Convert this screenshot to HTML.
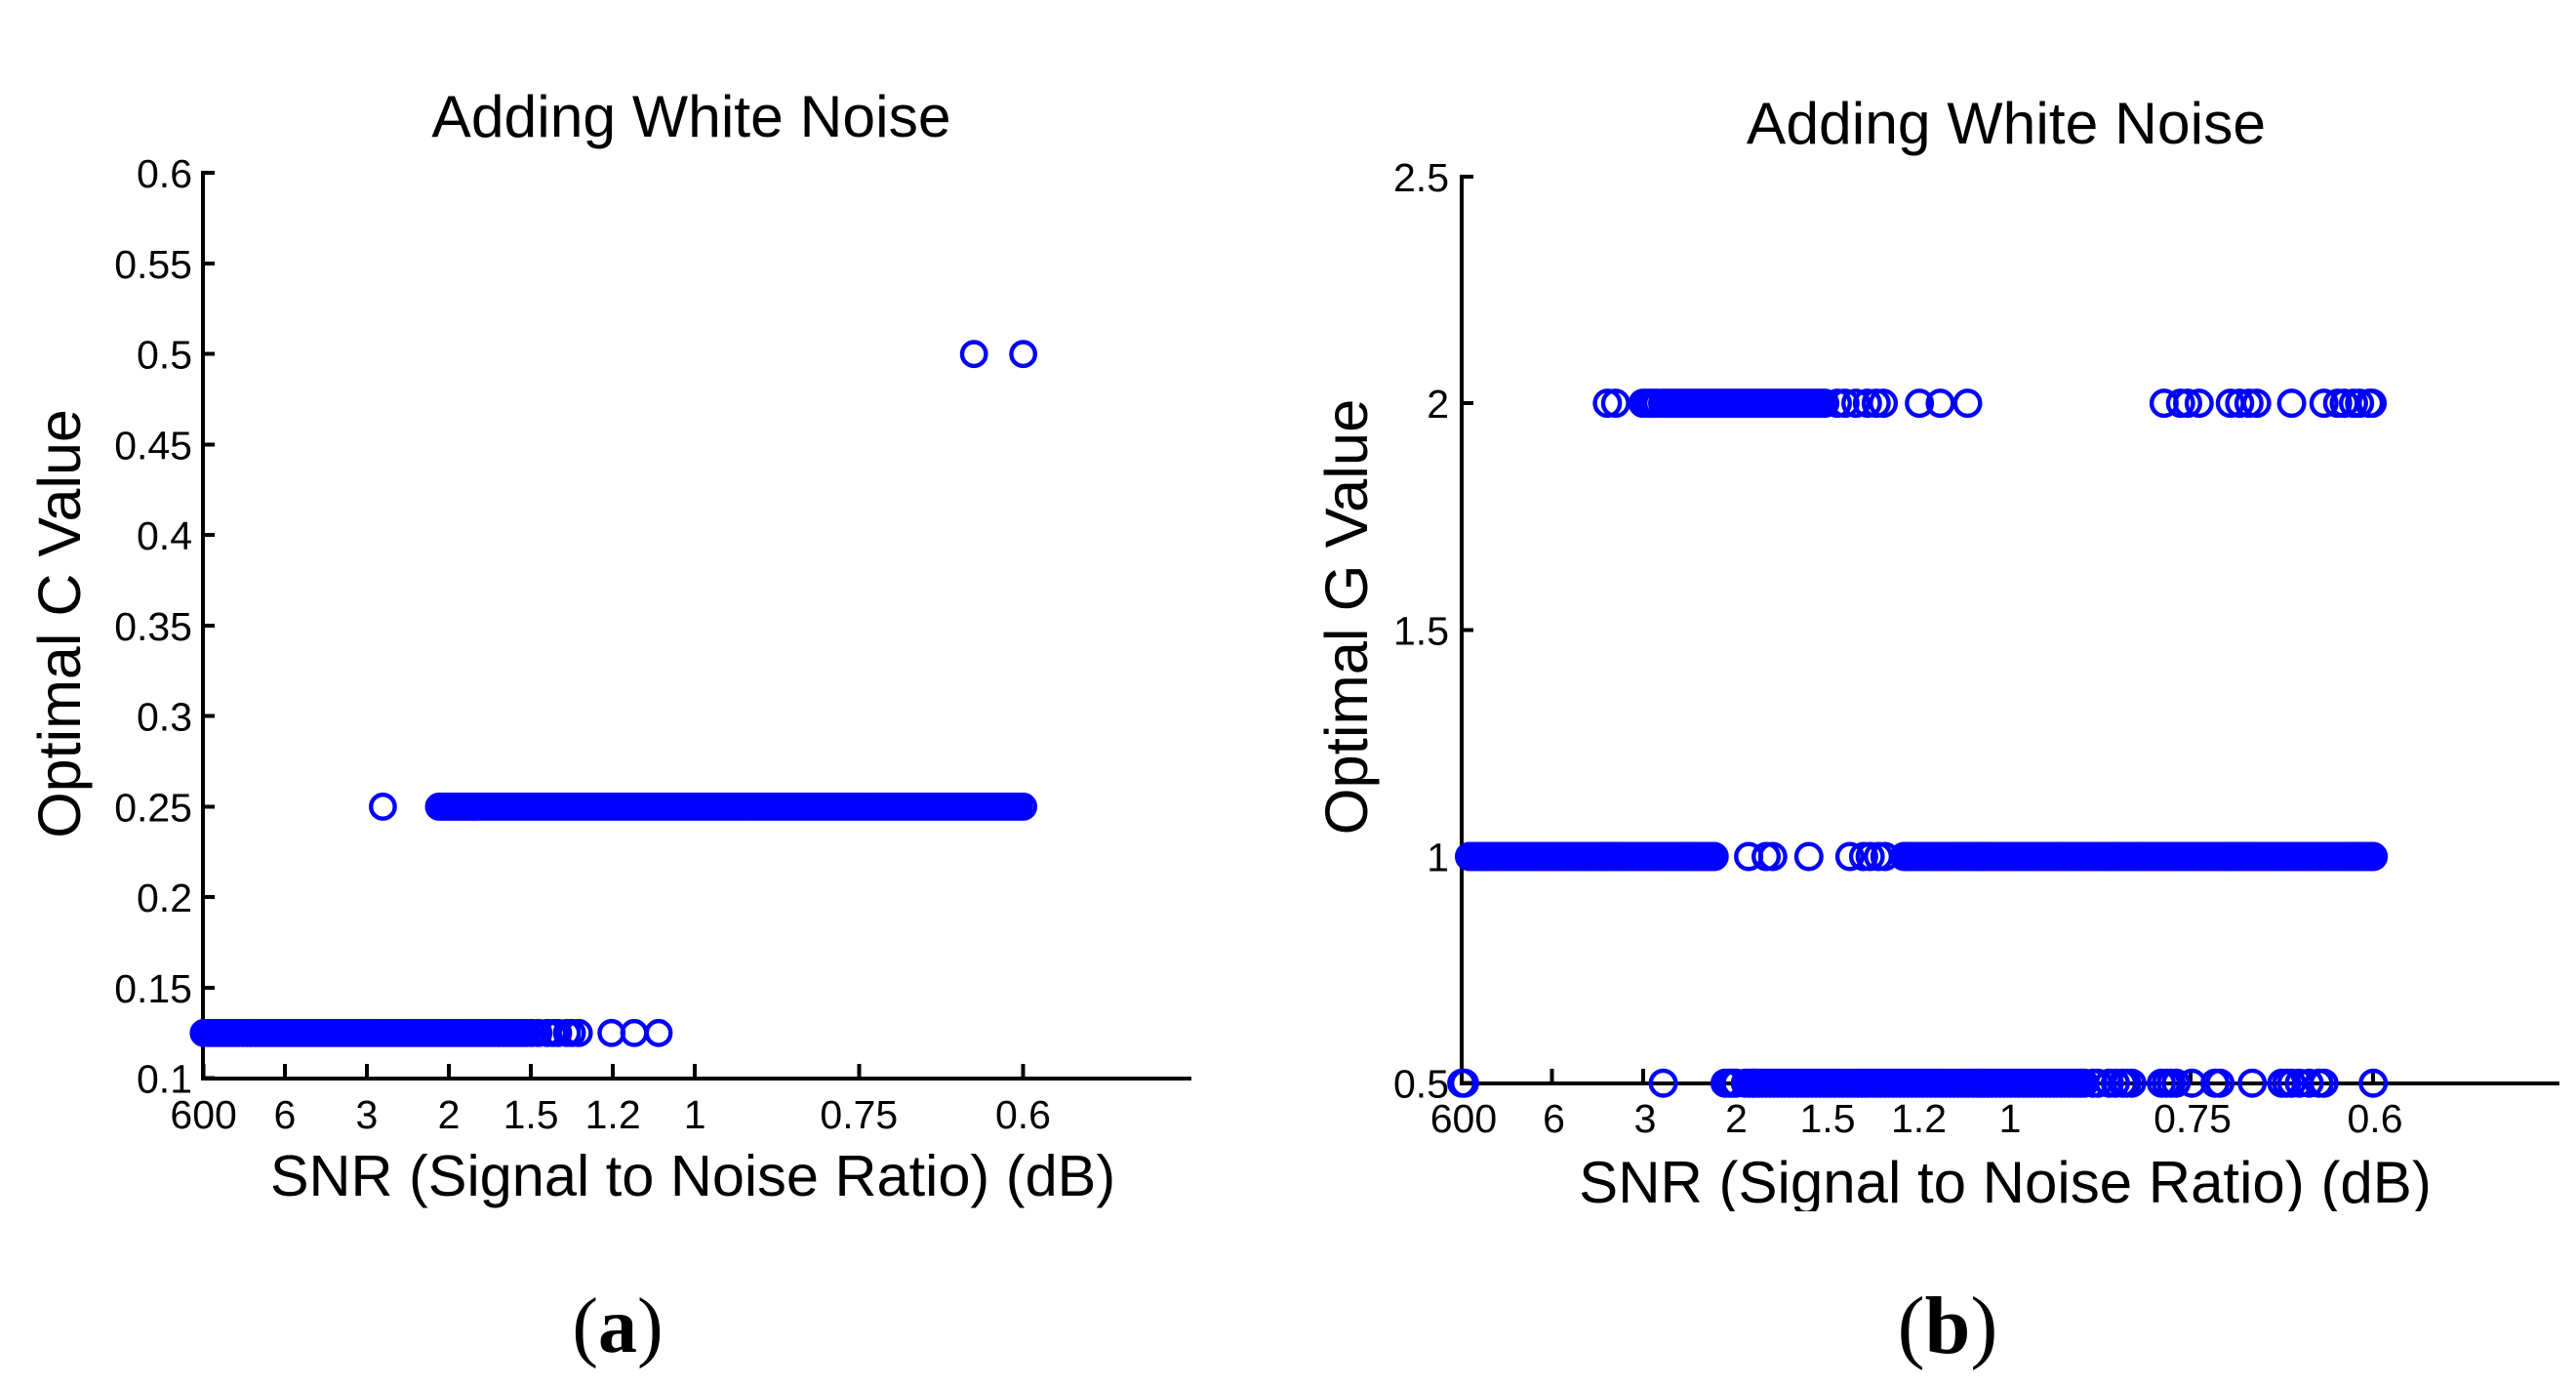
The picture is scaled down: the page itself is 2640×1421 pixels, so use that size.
<!DOCTYPE html>
<html lang="en">
<head>
<meta charset="utf-8">
<title>Adding White Noise - Optimal C and G values</title>
<style>
html,body{margin:0;padding:0;background:#fff;}
svg{display:block;}
text{font-family:"Liberation Sans",Arial,sans-serif;fill:#000;}
.cap{font-family:"Liberation Serif","Times New Roman",serif;}
</style>
</head>
<body>
<svg id="figure" xmlns="http://www.w3.org/2000/svg" width="2640" height="1421" viewBox="0 0 2640 1421">
  <rect x="0" y="0" width="2640" height="1421" fill="#ffffff"/>
  <defs>
    <clipPath id="xlabel-b-clip"><rect x="1500" y="1150" width="1100" height="91"/></clipPath>
  </defs>
  <g id="panel-a">
    <text x="708.5" y="140" font-size="60.6" text-anchor="middle">Adding White Noise</text>
    <text transform="translate(82,639) rotate(-90)" font-size="61" text-anchor="middle">Optimal C Value</text>
    <text x="710" y="1225" font-size="59.5" text-anchor="middle">SNR (Signal to Noise Ratio) (dB)</text>
    <text class="cap" font-size="80" x="633" y="1385" text-anchor="middle">(<tspan font-weight="bold">a</tspan>)</text>
  </g>
  <g id="panel-b">
    <text x="2056" y="147" font-size="60.6" text-anchor="middle">Adding White Noise</text>
    <text transform="translate(1401,632) rotate(-90)" font-size="61.5" text-anchor="middle">Optimal G Value</text>
    <text x="2055" y="1232" font-size="60" text-anchor="middle" clip-path="url(#xlabel-b-clip)">SNR (Signal to Noise Ratio) (dB)</text>
    <text class="cap" font-size="84" x="1996" y="1386" text-anchor="middle">(<tspan font-weight="bold">b</tspan>)</text>
  </g>
</svg>
<script>
// Shared x-axis ticks: SNR in dB, plotted linearly in 1/SNR
const snrTickLabels = [600, 6, 3, 2, 1.5, 1.2, 1, 0.75, 0.6];

// Panel (a): optimal C value
const cTickLabels = ['0.1','0.15','0.2','0.25','0.3','0.35','0.4','0.45','0.5','0.55','0.6'];
const cLevels = [0.125, 0.25, 0.5];
const cInvSnrAt0125 = [.002,.01,.018,.026,.034,.042,.05,.058,.066,.074,.082,.09,.098,.106,.114,.122,.13,.138,.146,.154,.162,.17,.178,.186,.194,.202,.21,.218,.226,.234,.242,.25,.258,.266,.274,.282,.29,.298,.306,.314,.322,.33,.338,.346,.354,.362,.37,.378,.386,.394,.402,.41,.418,.426,.434,.442,.45,.458,.466,.474,.482,.49,.498,.506,.514,.522,.53,.538,.546,.554,.562,.57,.578,.586,.594,.602,.61,.618,.626,.634,.642,.65,.658,.668,.682,.7,.712,.722,.74,.75,.764,.8305,.8767,.9263];
const cInvSnrAt025 = [.366,.48,.487,.494,.501,.508,.515,.522,.529,.536,.543,.55,.554,.562,.57,.578,.586,.594,.602,.61,.618,.626,.634,.642,.65,.658,.666,.674,.682,.69,.698,.706,.714,.722,.73,.738,.746,.754,.762,.77,.778,.786,.794,.802,.81,.818,.826,.834,.842,.85,.858,.866,.874,.882,.89,.898,.906,.914,.922,.93,.938,.946,.954,.962,.97,.978,.986,.994,1.002,1.01,1.018,1.026,1.034,1.042,1.05,1.058,1.066,1.074,1.082,1.09,1.098,1.106,1.114,1.122,1.13,1.138,1.146,1.154,1.162,1.17,1.178,1.186,1.194,1.202,1.21,1.218,1.226,1.234,1.242,1.25,1.258,1.266,1.274,1.282,1.29,1.298,1.306,1.314,1.322,1.33,1.338,1.346,1.354,1.362,1.37,1.378,1.386,1.394,1.402,1.41,1.418,1.426,1.434,1.442,1.45,1.458,1.466,1.474,1.482,1.49,1.498,1.506,1.514,1.522,1.53,1.538,1.546,1.554,1.562,1.57,1.578,1.586,1.594,1.602,1.61,1.618,1.626,1.634,1.642,1.65,1.658,1.667];
const cInvSnrAt05 = [1.567,1.667];

// Panel (b): optimal G value
const gTickLabels = ['0.5','1','1.5','2','2.5'];
const gLevels = [0.5, 1, 2];
const gInvSnrAt05 = [.002,.007,.37,.483,.49,.497,.503,.52,.527,.534,.537,.544,.551,.558,.565,.572,.579,.586,.593,.6,.607,.614,.621,.628,.635,.642,.649,.656,.663,.67,.677,.684,.691,.698,.705,.712,.719,.726,.733,.74,.747,.754,.761,.768,.775,.782,.789,.796,.803,.81,.817,.824,.831,.838,.845,.852,.859,.866,.873,.88,.887,.894,.901,.908,.915,.922,.929,.936,.943,.95,.957,.964,.971,.978,.985,.992,.999,1.006,1.013,1.02,1.027,1.034,1.041,1.048,1.055,1.062,1.069,1.076,1.083,1.09,1.097,1.104,1.111,1.118,1.125,1.132,1.139,1.155,1.164,1.185,1.196,1.209,1.217,1.226,1.28,1.289,1.298,1.307,1.336,1.378,1.387,1.446,1.5,1.509,1.518,1.532,1.55,1.568,1.577,1.667];
const gInvSnrAt1 = [.016,.023,.03,.037,.044,.051,.058,.065,.072,.079,.086,.093,.1,.107,.114,.121,.128,.135,.142,.149,.156,.163,.17,.177,.184,.191,.198,.205,.212,.219,.226,.233,.24,.247,.254,.261,.268,.275,.282,.289,.296,.303,.31,.317,.324,.331,.338,.345,.352,.359,.366,.373,.38,.387,.394,.401,.408,.415,.422,.429,.436,.443,.45,.457,.463,.526,.558,.57,.636,.711,.736,.748,.763,.775,.81,.815,.822,.829,.836,.843,.85,.857,.864,.871,.878,.885,.892,.899,.906,.913,.92,.927,.934,.941,.948,.955,.962,.969,.976,.983,.99,.997,1.004,1.011,1.018,1.025,1.032,1.039,1.046,1.053,1.06,1.067,1.074,1.081,1.088,1.095,1.102,1.109,1.116,1.123,1.13,1.137,1.144,1.151,1.158,1.165,1.172,1.179,1.186,1.193,1.2,1.207,1.214,1.221,1.228,1.235,1.242,1.249,1.256,1.263,1.27,1.277,1.284,1.291,1.298,1.305,1.312,1.319,1.326,1.333,1.34,1.347,1.354,1.361,1.368,1.375,1.382,1.389,1.396,1.403,1.41,1.417,1.424,1.431,1.438,1.445,1.452,1.459,1.466,1.473,1.48,1.487,1.494,1.501,1.508,1.515,1.522,1.529,1.536,1.543,1.55,1.557,1.564,1.571,1.578,1.585,1.592,1.599,1.606,1.613,1.62,1.627,1.634,1.641,1.648,1.655,1.662,1.667];
const gInvSnrAt2 = [.268,.283,.333,.34,.347,.354,.36,.369,.376,.383,.39,.397,.404,.411,.418,.425,.433,.44,.447,.454,.461,.468,.475,.482,.489,.496,.503,.51,.517,.524,.531,.538,.545,.552,.559,.566,.573,.58,.587,.594,.601,.608,.615,.622,.629,.636,.643,.65,.657,.665,.688,.702,.722,.743,.759,.772,.838,.876,.926,1.285,1.315,1.328,1.349,1.406,1.423,1.44,1.454,1.518,1.577,1.602,1.614,1.631,1.642,1.66,1.665];

const NS = 'http://www.w3.org/2000/svg';

function makeLine(parent, x1, y1, x2, y2, w) {
  const l = document.createElementNS(NS, 'line');
  l.setAttribute('x1', x1);
  l.setAttribute('y1', y1);
  l.setAttribute('x2', x2);
  l.setAttribute('y2', y2);
  l.setAttribute('stroke', '#000');
  l.setAttribute('stroke-width', w);
  l.setAttribute('shape-rendering', 'crispEdges');
  parent.appendChild(l);
  return l;
}

function makeText(parent, x, y, anchor, str) {
  const t = document.createElementNS(NS, 'text');
  t.setAttribute('x', x);
  t.setAttribute('y', y);
  t.setAttribute('font-size', '41');
  t.setAttribute('text-anchor', anchor);
  t.textContent = str;
  parent.appendChild(t);
  return t;
}

function drawPanel(panelId, cfg) {
  const root = document.getElementById(panelId);
  const sx = v => cfg.x0 + cfg.xScale * v;
  const sy = c => cfg.yBase - (c - cfg.yMin) * cfg.yScale;

  const yAxis = makeLine(root, cfg.axisX, sy(cfg.yMax) - 2, cfg.axisX, cfg.axisY + 2, 4);
  
  
  const xAxis = makeLine(root, cfg.axisX - 2, cfg.axisY, cfg.axisEnd, cfg.axisY, 4);
  
  

  cfg.yLabels.forEach(lab => {
    const y = sy(parseFloat(lab));
    const tick = makeLine(root, cfg.axisX, y, cfg.axisX + 12, y, 4);
    
    
    const t = makeText(root, cfg.yLabelX, y + 15, 'end', lab);
    
    
  });

  snrTickLabels.forEach(snr => {
    const x = sx(1 / snr);
    const tick = makeLine(root, x, cfg.axisY, x, cfg.axisY - 15, 4);
    
    
    const t = makeText(root, x + cfg.xLabelDx, cfg.xLabelY, 'middle', String(snr));
    
    
  });

  cfg.levels.forEach((level, i) => {
    const g = document.createElementNS(NS, 'g');
    
    
    root.appendChild(g);
    cfg.series[i].forEach(v => {
      const c = document.createElementNS(NS, 'circle');
      c.setAttribute('cx', sx(v));
      c.setAttribute('cy', sy(level));
      c.setAttribute('r', cfg.r);
      c.setAttribute('fill', 'none');
      c.setAttribute('stroke', '#0000ff');
      c.setAttribute('stroke-width', 4.4);
      
      
      g.appendChild(c);
    });
  });
}

drawPanel('panel-a', {
  x0: 207.8, xScale: 504.4,
  yBase: 1104.7, yMin: 0.1, yMax: 0.6, yScale: 1855,
  axisX: 208, axisY: 1105, axisEnd: 1221, r: 12.2,
  yLabelX: 197, xLabelY: 1156, xLabelDx: 0,
  yLabels: cTickLabels, levels: cLevels,
  series: [cInvSnrAt0125, cInvSnrAt025, cInvSnrAt05]
});

drawPanel('panel-b', {
  x0: 1497, xScale: 561,
  yBase: 1109.7, yMin: 0.5, yMax: 2.5, yScale: 464.4,
  axisX: 1498, axisY: 1110, axisEnd: 2623, r: 12.8,
  yLabelX: 1485, xLabelY: 1160, xLabelDx: 2,
  yLabels: gTickLabels, levels: gLevels,
  series: [gInvSnrAt05, gInvSnrAt1, gInvSnrAt2]
});
</script>
</body>
</html>
